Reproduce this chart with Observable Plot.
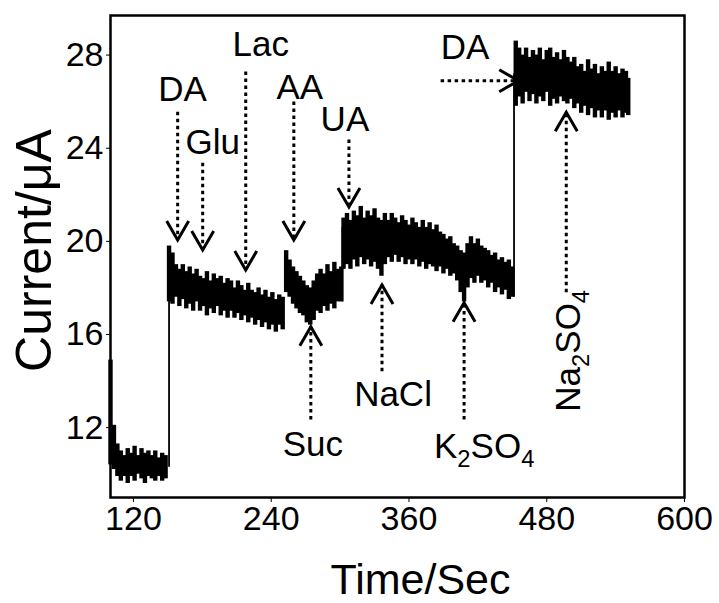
<!DOCTYPE html>
<html>
<head>
<meta charset="utf-8">
<script src="https://cdn.jsdelivr.net/npm/d3@7"></script>
<script src="https://cdn.jsdelivr.net/npm/@observablehq/plot@0.6"></script>
<style>
  html, body { margin: 0; padding: 0; background: white; }
</style>
</head>
<body>
<div id="chart"></div>
<script>
// ---- Amperometric trace: noise envelope (low/high) read at ~3 s steps ----
const traceTime = [
  100,103,106,109,112,115,118,121,124,127,130,133,136,139,142,145,148,
  151,154,157,160,163,166,169,172,175,178,181,184,187,190,193,196,199,202,205,208,211,214,217,220,223,226,229,232,235,238,241,244,247,250,
  253,256,259,262,265,268,271,274,277,280,283,286,289,292,295,298,301,
  303,306,309,312,315,318,321,324,327,330,333,336,339,342,345,348,351,354,357,360,363,366,369,372,375,378,381,384,387,390,393,396,399,402,405,408,411,414,417,420,423,426,429,432,435,438,441,444,447,450,
  453,456,459,462,465,468,471,474,477,480,483,486,489,492,495,498,501,504,507,510,513,516,519,522,525,528,531,534,537,540,543,546,549,551
];
const traceLow = [
  10.4,10.2,9.9,9.7,9.9,9.6,9.9,9.7,10.0,9.8,9.6,9.9,9.8,9.7,9.9,9.7,9.8,
  17.4,17.3,17.6,17.2,17.5,17.1,17.3,17.0,17.4,17.0,17.2,16.8,17.1,16.9,17.2,16.8,17.0,16.7,17.0,16.7,16.9,16.6,16.8,16.5,16.7,16.4,16.6,16.3,16.5,16.2,16.4,16.1,16.4,16.2,
  17.8,17.6,17.3,17.1,16.9,16.8,16.5,16.4,16.6,17.0,16.9,17.2,17.0,17.3,17.1,17.4,17.4,
  18.8,19.0,18.8,19.2,18.9,19.3,19.0,19.2,18.9,19.1,18.8,18.5,19.0,19.3,19.1,19.4,19.1,19.3,19.0,19.2,19.0,19.2,18.9,19.1,18.8,19.0,18.9,18.7,18.9,18.6,18.8,18.5,18.6,18.3,17.8,17.4,18.0,18.4,18.2,18.5,18.2,18.3,18.0,18.2,17.8,18.0,17.7,17.9,17.5,17.6,
  25.8,26.2,25.9,26.4,26.0,26.3,25.9,26.2,26.0,26.4,25.8,26.1,25.9,26.2,26.0,25.9,26.1,25.7,25.9,25.5,25.8,25.4,25.7,25.3,25.6,25.3,25.6,25.2,25.5,25.3,25.6,25.3,25.5,25.4
];
const traceHigh = [
  14.9,12.1,11.3,11.0,10.8,11.1,10.9,11.2,10.8,11.1,10.9,11.0,10.8,11.0,10.7,10.9,10.8,
  19.8,19.5,19.0,18.8,19.0,18.7,18.9,18.6,18.8,18.5,18.4,18.7,18.3,18.6,18.4,18.5,18.2,18.4,18.3,18.0,18.3,18.1,17.9,18.2,17.9,17.8,18.0,17.7,17.9,17.6,17.8,17.5,17.7,17.6,
  19.6,19.2,18.9,18.7,18.5,18.3,18.1,18.0,18.3,18.6,18.8,18.6,19.0,18.7,19.1,18.8,18.9,
  21.0,21.2,20.9,21.3,21.1,21.5,21.0,21.3,21.1,21.4,21.0,20.9,21.2,20.9,21.2,21.0,20.8,21.1,20.9,20.7,21.0,20.8,20.6,20.9,20.6,20.8,20.5,20.7,20.4,20.3,20.1,20.2,19.9,19.8,19.6,19.5,19.9,20.2,19.9,20.1,19.8,19.7,19.6,19.4,19.5,19.2,19.3,19.1,19.2,18.9,
  28.6,28.3,28.0,28.3,27.9,28.2,28.0,28.3,27.8,28.2,28.3,27.9,28.1,27.8,28.2,27.9,27.7,27.9,27.5,27.6,27.3,27.8,27.4,27.6,27.2,27.5,27.3,27.7,27.3,27.5,27.2,27.4,27.3,27.0
];
// step changes (injection jumps)
const jumpTime = [151, 302, 451.5];
const jumpFrom = [10.3, 17.4, 17.6];
const jumpTo = [19.5, 20.6, 27.2];

// ---- Injection annotations ----
const downLabels = ["DA", "Glu", "Lac", "AA", "UA"];
const downTimes = [158.5, 180.3, 217.8, 259.7, 307.7];
const downTops = [25.55, 23.36, 27.27, 25.98, 24.35];
const downTips = [20.06, 19.63, 18.77, 20.06, 21.48];
const downLabelTimes = [162.8, 189, 230.9, 264.9, 304.2];
const downLabelCurrents = [26.5, 24.22, 28.43, 26.58, 25.2];

const upLabels = ["Suc", "NaCl", "K_2SO_4"];
const upTimes = [274.5, 336.5, 408];
const upTips = [16.33, 18.13, 17.36];
const upBottoms = [12.33, 14.4, 12.33];
const upLabelTimes = [276.3, 346.1, 425.5];
const upLabelCurrents = [11.26, 13.41, 11.18];

const vertLabels = ["Na_2SO_4"];
const vertTimes = [497];
const vertTips = [25.55];
const vertBottoms = [17.79];
const vertLabelTimes = [498.8];
const vertLabelCurrents = [15.3];

const sideLabels = ["DA"];
const sideFrom = [388];
const sideTip = [455.2];
const sideCurrent = [26.9];
const sideLabelTimes = [408.9];
const sideLabelCurrents = [28.3];

const xTicks = [120, 240, 360, 480, 600];
const yTicks = [12, 16, 20, 24, 28];

// ---- tables ----
const trace = traceTime.map((t, i) => ({t, lo: traceLow[i], hi: traceHigh[i]}));
const jumps = jumpTime.map((t, i) => ({t, a: jumpFrom[i], b: jumpTo[i]}));
const downs = downLabels.map((l, i) => ({l, t: downTimes[i], top: downTops[i], tip: downTips[i], lt: downLabelTimes[i], lc: downLabelCurrents[i]}));
const ups = upLabels.map((l, i) => ({l, t: upTimes[i], bot: upBottoms[i], tip: upTips[i], lt: upLabelTimes[i], lc: upLabelCurrents[i]}));
const verts = vertLabels.map((l, i) => ({l, t: vertTimes[i], bot: vertBottoms[i], tip: vertTips[i], lt: vertLabelTimes[i], lc: vertLabelCurrents[i]}));
const sides = sideLabels.map((l, i) => ({l, x1: sideFrom[i], x2: sideTip[i], y: sideCurrent[i], lt: sideLabelTimes[i], lc: sideLabelCurrents[i]}));

// chevron arrowheads
const chevDown = {draw(c) { c.moveTo(-11, -19); c.lineTo(0, 0); c.lineTo(11, -19); }};
const chevUp = {draw(c) { c.moveTo(-11, 19); c.lineTo(0, 0); c.lineTo(11, 19); }};
const chevRight = {draw(c) { c.moveTo(-19, -11); c.lineTo(0, 0); c.lineTo(-19, 11); }};

const dotted = {stroke: "black", strokeWidth: 3, strokeDasharray: "3.5,3.5"};
const head = {stroke: "black", fill: "none", strokeWidth: 3, r: 5, strokeLinejoin: "miter"};
const lab = {fontSize: 35, fill: "black", lineAnchor: "middle"};

const svg = Plot.plot({
  width: 719,
  height: 603,
  marginLeft: 110,
  marginRight: 35,
  marginTop: 15,
  marginBottom: 106,
  style: {fontFamily: "'Liberation Sans', Arial, Helvetica, sans-serif", fontSize: "34px", color: "black", background: "white", overflow: "visible"},
  x: {domain: [100, 600], ticks: xTicks, tickSize: 5, tickPadding: 3, label: null},
  y: {domain: [9.0, 29.7], ticks: yTicks, tickSize: 4, tickPadding: 3, label: null},
  marks: [
    Plot.ruleX(trace, {x: "t", y1: "lo", y2: "hi", stroke: "black", strokeWidth: 4.4}),
    Plot.ruleX(jumps, {x: "t", y1: "a", y2: "b", stroke: "black", strokeWidth: 1.8}),
    // down arrows
    Plot.ruleX(downs, {x: "t", y1: "top", y2: "tip", ...dotted}),
    Plot.dot(downs, {x: "t", y: "tip", symbol: chevDown, ...head}),
    Plot.text(downs, {x: "lt", y: "lc", text: "l", ...lab}),
    // up arrows
    Plot.ruleX(ups, {x: "t", y1: "bot", y2: "tip", ...dotted}),
    Plot.dot(ups, {x: "t", y: "tip", symbol: chevUp, ...head}),
    Plot.text(ups, {x: "lt", y: "lc", text: "l", ...lab}),
    // vertical label arrow (Na2SO4)
    Plot.ruleX(verts, {x: "t", y1: "bot", y2: "tip", ...dotted}),
    Plot.dot(verts, {x: "t", y: "tip", symbol: chevUp, ...head}),
    Plot.text(verts, {x: "lt", y: "lc", text: "l", rotate: -90, ...lab}),
    // side arrow (second DA)
    Plot.ruleY(sides, {y: "y", x1: "x1", x2: "x2", ...dotted}),
    Plot.dot(sides, {x: "x2", y: "y", symbol: chevRight, ...head}),
    Plot.text(sides, {x: "lt", y: "lc", text: "l", ...lab}),
    Plot.frame({stroke: "black", strokeWidth: 2.5}),
    // axis titles
    Plot.text(["Time/Sec"], {frameAnchor: "bottom", text: d => d, textAnchor: "middle", dx: 23, dy: 83, fontSize: 43, lineAnchor: "middle"}),
    Plot.text(["Current/\u03bcA"], {frameAnchor: "left", text: d => d, textAnchor: "middle", rotate: -90, dx: -76, dy: -6, fontSize: 50, lineAnchor: "middle"})
  ]
});

// render chemical-formula subscripts
d3.select(svg).selectAll("text").each(function() {
  const s = this.textContent;
  if (!s || !s.includes("_")) return;
  const parts = s.split(/_(\d)/);
  while (this.firstChild) this.removeChild(this.firstChild);
  const sel = d3.select(this);
  parts.forEach((p, i) => {
    if (!p) return;
    const ts = sel.append("tspan").text(p);
    if (i % 2 === 1) ts.attr("font-size", "0.68em").attr("dy", 9);
    else if (i > 0) ts.attr("dy", -9);
  });
});

document.getElementById("chart").appendChild(svg);
</script>
</body>
</html>
